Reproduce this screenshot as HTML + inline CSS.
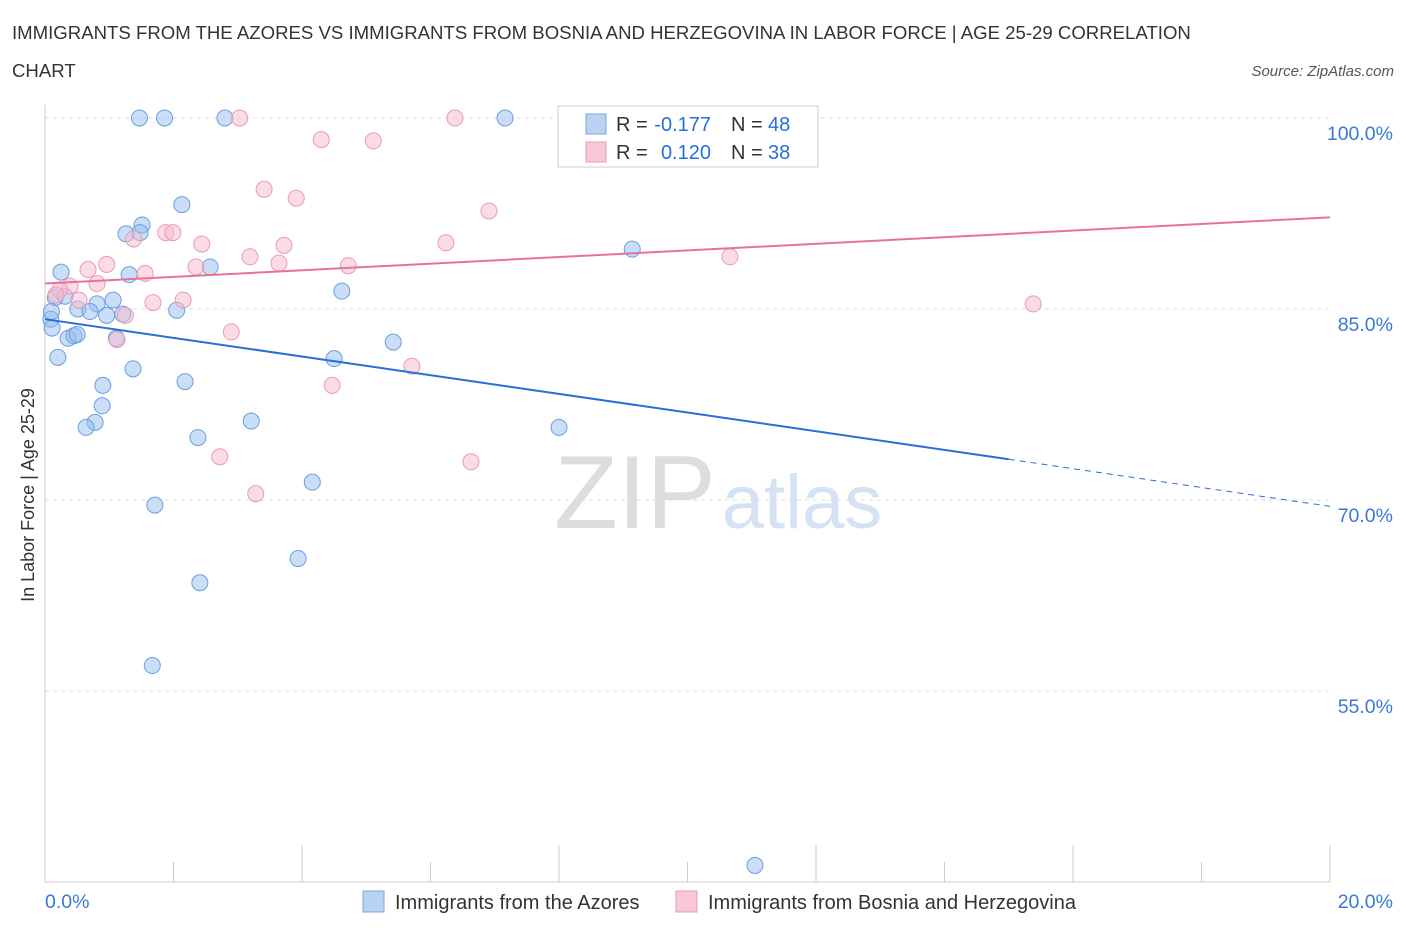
<!DOCTYPE html>
<html><head><meta charset="utf-8"><style>
body{margin:0;background:#fff;font-family:"Liberation Sans",sans-serif;}
svg text{font-family:"Liberation Sans",sans-serif;}
</style></head><body>
<svg id="c" width="1406" height="930">
<text x="12" y="39" font-size="18.6" fill="#333">IMMIGRANTS FROM THE AZORES VS IMMIGRANTS FROM BOSNIA AND HERZEGOVINA IN LABOR FORCE | AGE 25-29 CORRELATION</text>
<text x="12" y="77" font-size="18.6" fill="#333">CHART</text>
<text x="1394" y="76" font-size="15" fill="#555" font-style="italic" text-anchor="end">Source: ZipAtlas.com</text>
<text x="635" y="528" font-size="104" fill="#ddd" font-family="Liberation Serif" text-anchor="middle">ZIP</text>
<text x="802" y="528" font-size="76" fill="#d4e2f4" text-anchor="middle">atlas</text>
<text transform="translate(34,495) rotate(-90)" font-size="18" fill="#333" text-anchor="middle">In Labor Force | Age 25-29</text>
<g id="grid"></g><g id="marks"></g>
<g>
<rect x="558" y="106" width="260" height="61" fill="#fff" stroke="#ccc"/>
<rect x="586" y="114" width="20" height="20" fill="#b9d3f5" stroke="#7aa6e0"/>
<rect x="586" y="142" width="20" height="20" fill="#f9c8d7" stroke="#e99ab4"/>
<text x="616" y="131" font-size="20" fill="#333">R =</text>
<text x="711" y="131" font-size="20" fill="#2a6fd6" text-anchor="end">-0.177</text>
<text x="731" y="131" font-size="20" fill="#333">N =</text>
<text x="768" y="131" font-size="20" fill="#2a6fd6">48</text>
<text x="616" y="159" font-size="20" fill="#333">R =</text>
<text x="711" y="159" font-size="20" fill="#2a6fd6" text-anchor="end">0.120</text>
<text x="731" y="159" font-size="20" fill="#333">N =</text>
<text x="768" y="159" font-size="20" fill="#2a6fd6">38</text>
</g>
<g>
<rect x="363" y="891" width="21" height="21" fill="#b9d3f5" stroke="#7aa6e0"/>
<text x="395" y="909" font-size="20" fill="#333">Immigrants from the Azores</text>
<rect x="676" y="891" width="21" height="21" fill="#f9c8d7" stroke="#e99ab4"/>
<text x="708" y="909" font-size="20" fill="#333">Immigrants from Bosnia and Herzegovina</text>
</g>
</svg>
<script>
const yTicks=[100,85,70,55];
const xTickLabels=["0.0%","20.0%"];
const blueX=[1.47,1.86,2.8,7.16,9.09,2.13,1.51,1.26,1.48,9.14,0.25,1.31,2.57,4.62,0.16,0.31,1.06,0.81,0.51,0.7,0.96,1.21,2.05,0.09,0.11,0.36,0.45,0.5,1.11,5.42,0.2,4.5,1.37,2.18,0.9,0.89,3.21,0.78,0.64,8.0,2.38,4.16,1.71,3.94,2.41,1.67,11.05,0.1];
const blueY=[100,100,100,100,100,93.2,91.6,90.9,91.0,89.7,87.9,87.7,88.3,86.4,85.9,86.0,85.7,85.4,85.0,84.8,84.5,84.6,84.9,84.2,83.5,82.7,82.9,83.0,82.7,82.4,81.2,81.1,80.3,79.3,79.0,77.4,76.2,76.1,75.7,75.7,74.9,71.4,69.6,65.4,63.5,57.0,41.3,84.8];
const pinkX=[3.03,6.38,8.11,4.3,5.11,3.41,3.91,6.91,1.88,1.99,1.38,2.44,3.72,3.19,6.24,0.96,0.67,1.56,2.35,3.64,4.72,10.66,0.81,0.39,0.23,0.17,0.53,1.68,2.15,1.25,15.38,2.9,1.12,5.71,4.47,2.72,6.63,3.28];
const pinkY=[100,100,100,98.3,98.2,94.4,93.7,92.7,91.0,91.0,90.5,90.1,90.0,89.1,90.2,88.5,88.1,87.8,88.3,88.6,88.4,89.1,87.0,86.8,86.5,86.1,85.7,85.5,85.7,84.5,85.4,83.2,82.6,80.5,79.0,73.4,73.0,70.5];
const blueFit=[[0,84.2],[15.0,73.2],[20,69.5]];
const pinkFit=[[0,87.0],[20,92.2]];
const X=v=>45+v*64.25, Y=v=>118+(100-v)*12.733;
const ns="http://www.w3.org/2000/svg";
function mk(t,a,p){const e=document.createElementNS(ns,t);for(const k in a)e.setAttribute(k,a[k]);p.appendChild(e);return e;}
const g=document.getElementById('grid'),m=document.getElementById('marks');
yTicks.forEach(t=>{const l=mk('line',{x1:45,x2:1330,y1:Y(t),y2:Y(t),stroke:'#ddd','stroke-dasharray':'4,4'},g);


const tx=mk('text',{x:1393,y:Y(t)+22,'font-size':19.5,fill:'#3b78d8','text-anchor':'end'},g);tx.textContent=t.toFixed(1)+'%';

});
mk('line',{x1:45,x2:45,y1:105,y2:882,stroke:'#ccc'},g);
mk('line',{x1:45,x2:1330,y1:882,y2:882,stroke:'#ccc'},g);
for(let i=0;i<=10;i++){const x=X(i*2);mk('line',{x1:x,x2:x,y1:i==0?882:(i%2?862:845),y2:882,stroke:'#ccc'},g);}
xTickLabels.forEach((s,i)=>{const tx=mk('text',{x:i?1393:45,y:908,'font-size':19.5,fill:'#3b78d8','text-anchor':i?'end':'start'},g);tx.textContent=s;

});
blueX.forEach((v,i)=>{const c=mk('circle',{cx:X(v),cy:Y(blueY[i]),r:8,fill:'rgba(150,190,240,0.5)',stroke:'#6a9fe0','stroke-width':1},m);

});
pinkX.forEach((v,i)=>{const c=mk('circle',{cx:X(v),cy:Y(pinkY[i]),r:8,fill:'rgba(248,185,205,0.5)',stroke:'#eb9ab4','stroke-width':1},m);

});
let l=mk('line',{x1:X(blueFit[0][0]),y1:Y(blueFit[0][1]),x2:X(blueFit[1][0]),y2:Y(blueFit[1][1]),stroke:'#2a6fd6','stroke-width':2},m);


l=mk('line',{x1:X(blueFit[1][0]),y1:Y(blueFit[1][1]),x2:X(blueFit[2][0]),y2:Y(blueFit[2][1]),stroke:'#2a6fd6','stroke-width':1,'stroke-dasharray':'6,5'},m);


l=mk('line',{x1:X(pinkFit[0][0]),y1:Y(pinkFit[0][1]),x2:X(pinkFit[1][0]),y2:Y(pinkFit[1][1]),stroke:'#e8719a','stroke-width':2},m);


</script>
</body></html>
